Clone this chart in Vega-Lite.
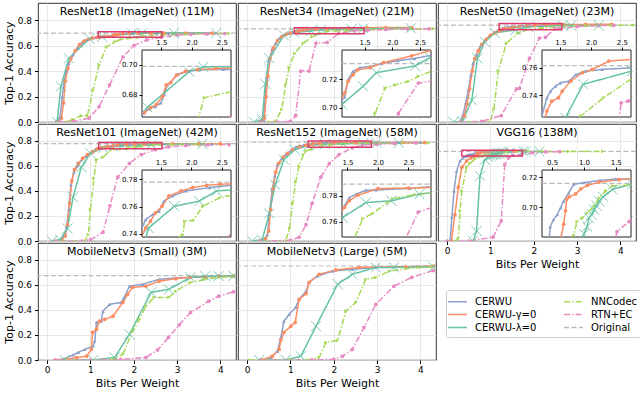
{
"$schema":"https://vega.github.io/schema/vega-lite/v6.json",
"background":"white",
"padding":{"left":2,"top":2,"right":2,"bottom":2},
"bounds":"flush",
"spacing":2,
"columns":3,
"config":{
 "font":"DejaVu Sans",
 "view":{"stroke":"#000000","strokeWidth":0.8},
 "axis":{"labelFontSize":9,"labelColor":"#000","titleFontSize":11,"titleFontWeight":"normal","titleColor":"#000","gridColor":"#e2e2e2","gridWidth":0.8,"tickColor":"#000","labelFlush":false,"labelOverlap":false},
 "title":{"fontSize":11,"fontWeight":"normal","offset":-14,"frame":"group","color":"#000"}
},
"datasets":{
 "orig":[{"model":"R18","method":"Original","acc":0.699},{"model":"R34","method":"Original","acc":0.731},{"model":"R50","method":"Original","acc":0.7615},{"model":"R101","method":"Original","acc":0.778},{"model":"R152","method":"Original","acc":0.789},{"model":"VGG16","method":"Original","acc":0.716},{"model":"MNS","method":"Original","acc":0.674},{"model":"MNL","method":"Original","acc":0.751}],
 "boxes":[{"model":"R18","x0":1.18,"x1":2.65,"y0":0.665,"y1":0.71},{"model":"R34","x0":1.09,"x1":2.7,"y0":0.6935,"y1":0.7405},{"model":"R50","x0":1.2,"x1":2.65,"y0":0.724,"y1":0.773},{"model":"R101","x0":1.19,"x1":2.65,"y0":0.7375,"y1":0.787},{"model":"R152","x0":1.41,"x1":2.87,"y0":0.7485,"y1":0.7998},{"model":"VGG16","x0":0.34,"x1":1.74,"y0":0.68,"y1":0.725}],
 "curves":[
{"model":"R18","method":"CERWU","bpw":0.2,"acc":0},{"model":"R18","method":"CERWU","bpw":0.3,"acc":0.04},{"model":"R18","method":"CERWU","bpw":0.35,"acc":0.2},{"model":"R18","method":"CERWU","bpw":0.4,"acc":0.33},{"model":"R18","method":"CERWU","bpw":0.45,"acc":0.4},{"model":"R18","method":"CERWU","bpw":0.5,"acc":0.46},{"model":"R18","method":"CERWU","bpw":0.6,"acc":0.53},{"model":"R18","method":"CERWU","bpw":0.7,"acc":0.58},{"model":"R18","method":"CERWU","bpw":0.8,"acc":0.62},{"model":"R18","method":"CERWU","bpw":0.9,"acc":0.645},{"model":"R18","method":"CERWU","bpw":1.0,"acc":0.655},{"model":"R18","method":"CERWU","bpw":1.1,"acc":0.662},{"model":"R18","method":"CERWU","bpw":1.2,"acc":0.6675},{"model":"R18","method":"CERWU","bpw":1.3,"acc":0.6706},{"model":"R18","method":"CERWU","bpw":1.4,"acc":0.672},{"model":"R18","method":"CERWU","bpw":1.49,"acc":0.6744},{"model":"R18","method":"CERWU","bpw":1.55,"acc":0.68},{"model":"R18","method":"CERWU","bpw":1.6,"acc":0.6868},{"model":"R18","method":"CERWU","bpw":1.66,"acc":0.6888},{"model":"R18","method":"CERWU","bpw":1.77,"acc":0.6936},{"model":"R18","method":"CERWU","bpw":1.96,"acc":0.6958},{"model":"R18","method":"CERWU","bpw":2.13,"acc":0.6966},{"model":"R18","method":"CERWU","bpw":2.52,"acc":0.697},{"model":"R18","method":"CERWU","bpw":2.8,"acc":0.6968},{"model":"R18","method":"CERWU","bpw":3.2,"acc":0.697},{"model":"R18","method":"CERWU","bpw":3.7,"acc":0.6972},
{"model":"R18","method":"CERWU-γ=0","bpw":0.25,"acc":0},{"model":"R18","method":"CERWU-γ=0","bpw":0.33,"acc":0.03},{"model":"R18","method":"CERWU-γ=0","bpw":0.38,"acc":0.15},{"model":"R18","method":"CERWU-γ=0","bpw":0.42,"acc":0.32},{"model":"R18","method":"CERWU-γ=0","bpw":0.48,"acc":0.42},{"model":"R18","method":"CERWU-γ=0","bpw":0.55,"acc":0.5},{"model":"R18","method":"CERWU-γ=0","bpw":0.65,"acc":0.56},{"model":"R18","method":"CERWU-γ=0","bpw":0.75,"acc":0.61},{"model":"R18","method":"CERWU-γ=0","bpw":0.85,"acc":0.635},{"model":"R18","method":"CERWU-γ=0","bpw":0.95,"acc":0.65},{"model":"R18","method":"CERWU-γ=0","bpw":1.05,"acc":0.66},{"model":"R18","method":"CERWU-γ=0","bpw":1.15,"acc":0.665},{"model":"R18","method":"CERWU-γ=0","bpw":1.22,"acc":0.668},{"model":"R18","method":"CERWU-γ=0","bpw":1.32,"acc":0.6712},{"model":"R18","method":"CERWU-γ=0","bpw":1.42,"acc":0.6735},{"model":"R18","method":"CERWU-γ=0","bpw":1.52,"acc":0.679},{"model":"R18","method":"CERWU-γ=0","bpw":1.58,"acc":0.6865},{"model":"R18","method":"CERWU-γ=0","bpw":1.65,"acc":0.688},{"model":"R18","method":"CERWU-γ=0","bpw":1.75,"acc":0.6932},{"model":"R18","method":"CERWU-γ=0","bpw":1.9,"acc":0.6958},{"model":"R18","method":"CERWU-γ=0","bpw":2.1,"acc":0.6968},{"model":"R18","method":"CERWU-γ=0","bpw":2.4,"acc":0.6975},{"model":"R18","method":"CERWU-γ=0","bpw":2.7,"acc":0.698},{"model":"R18","method":"CERWU-γ=0","bpw":3.2,"acc":0.698},{"model":"R18","method":"CERWU-γ=0","bpw":3.8,"acc":0.6985},
{"model":"R18","method":"CERWU-λ=0","bpw":0.23,"acc":0},{"model":"R18","method":"CERWU-λ=0","bpw":0.32,"acc":0.28},{"model":"R18","method":"CERWU-λ=0","bpw":0.5,"acc":0.5},{"model":"R18","method":"CERWU-λ=0","bpw":0.98,"acc":0.655},{"model":"R18","method":"CERWU-λ=0","bpw":1.27,"acc":0.6715},{"model":"R18","method":"CERWU-λ=0","bpw":1.96,"acc":0.6955},{"model":"R18","method":"CERWU-λ=0","bpw":2.19,"acc":0.6986},{"model":"R18","method":"CERWU-λ=0","bpw":2.93,"acc":0.699},{"model":"R18","method":"CERWU-λ=0","bpw":3.9,"acc":0.699},
{"model":"R18","method":"NNCodec","bpw":0.45,"acc":0},{"model":"R18","method":"NNCodec","bpw":0.6,"acc":0.02},{"model":"R18","method":"NNCodec","bpw":0.79,"acc":0.05},{"model":"R18","method":"NNCodec","bpw":0.93,"acc":0.05},{"model":"R18","method":"NNCodec","bpw":1.06,"acc":0.25},{"model":"R18","method":"NNCodec","bpw":1.2,"acc":0.45},{"model":"R18","method":"NNCodec","bpw":1.37,"acc":0.59},{"model":"R18","method":"NNCodec","bpw":1.56,"acc":0.63},{"model":"R18","method":"NNCodec","bpw":1.71,"acc":0.65},{"model":"R18","method":"NNCodec","bpw":1.94,"acc":0.66},{"model":"R18","method":"NNCodec","bpw":2.1,"acc":0.663},{"model":"R18","method":"NNCodec","bpw":2.21,"acc":0.678},{"model":"R18","method":"NNCodec","bpw":2.68,"acc":0.6823},{"model":"R18","method":"NNCodec","bpw":3.2,"acc":0.69},{"model":"R18","method":"NNCodec","bpw":3.7,"acc":0.694},{"model":"R18","method":"NNCodec","bpw":4.2,"acc":0.696},
{"model":"R18","method":"RTN+EC","bpw":0.3,"acc":0},{"model":"R18","method":"RTN+EC","bpw":0.6,"acc":0.005},{"model":"R18","method":"RTN+EC","bpw":0.97,"acc":0.03},{"model":"R18","method":"RTN+EC","bpw":1.2,"acc":0.12},{"model":"R18","method":"RTN+EC","bpw":1.44,"acc":0.29},{"model":"R18","method":"RTN+EC","bpw":1.75,"acc":0.51},{"model":"R18","method":"RTN+EC","bpw":2.0,"acc":0.6},{"model":"R18","method":"RTN+EC","bpw":2.3,"acc":0.645},{"model":"R18","method":"RTN+EC","bpw":2.63,"acc":0.665},{"model":"R18","method":"RTN+EC","bpw":3.0,"acc":0.683},{"model":"R18","method":"RTN+EC","bpw":3.31,"acc":0.689},{"model":"R18","method":"RTN+EC","bpw":3.69,"acc":0.692},{"model":"R18","method":"RTN+EC","bpw":4.1,"acc":0.695},
{"model":"R34","method":"CERWU","bpw":0.3,"acc":0},{"model":"R34","method":"CERWU","bpw":0.38,"acc":0.02},{"model":"R34","method":"CERWU","bpw":0.42,"acc":0.2},{"model":"R34","method":"CERWU","bpw":0.45,"acc":0.35},{"model":"R34","method":"CERWU","bpw":0.5,"acc":0.48},{"model":"R34","method":"CERWU","bpw":0.58,"acc":0.57},{"model":"R34","method":"CERWU","bpw":0.66,"acc":0.62},{"model":"R34","method":"CERWU","bpw":0.75,"acc":0.66},{"model":"R34","method":"CERWU","bpw":0.85,"acc":0.685},{"model":"R34","method":"CERWU","bpw":0.95,"acc":0.698},{"model":"R34","method":"CERWU","bpw":1.05,"acc":0.704},{"model":"R34","method":"CERWU","bpw":1.14,"acc":0.7074},{"model":"R34","method":"CERWU","bpw":1.2,"acc":0.7197},{"model":"R34","method":"CERWU","bpw":1.29,"acc":0.7255},{"model":"R34","method":"CERWU","bpw":1.41,"acc":0.7281},{"model":"R34","method":"CERWU","bpw":1.6,"acc":0.729},{"model":"R34","method":"CERWU","bpw":1.8,"acc":0.731},{"model":"R34","method":"CERWU","bpw":2.1,"acc":0.733},{"model":"R34","method":"CERWU","bpw":2.4,"acc":0.7345},{"model":"R34","method":"CERWU","bpw":2.77,"acc":0.7373},{"model":"R34","method":"CERWU","bpw":3.2,"acc":0.738},{"model":"R34","method":"CERWU","bpw":3.8,"acc":0.7385},
{"model":"R34","method":"CERWU-γ=0","bpw":0.33,"acc":0},{"model":"R34","method":"CERWU-γ=0","bpw":0.4,"acc":0.03},{"model":"R34","method":"CERWU-γ=0","bpw":0.44,"acc":0.2},{"model":"R34","method":"CERWU-γ=0","bpw":0.48,"acc":0.36},{"model":"R34","method":"CERWU-γ=0","bpw":0.53,"acc":0.5},{"model":"R34","method":"CERWU-γ=0","bpw":0.6,"acc":0.58},{"model":"R34","method":"CERWU-γ=0","bpw":0.7,"acc":0.64},{"model":"R34","method":"CERWU-γ=0","bpw":0.8,"acc":0.67},{"model":"R34","method":"CERWU-γ=0","bpw":0.9,"acc":0.69},{"model":"R34","method":"CERWU-γ=0","bpw":1.0,"acc":0.7},{"model":"R34","method":"CERWU-γ=0","bpw":1.14,"acc":0.7105},{"model":"R34","method":"CERWU-γ=0","bpw":1.2,"acc":0.7185},{"model":"R34","method":"CERWU-γ=0","bpw":1.29,"acc":0.7232},{"model":"R34","method":"CERWU-γ=0","bpw":1.38,"acc":0.7267},{"model":"R34","method":"CERWU-γ=0","bpw":1.6,"acc":0.7281},{"model":"R34","method":"CERWU-γ=0","bpw":1.84,"acc":0.7316},{"model":"R34","method":"CERWU-γ=0","bpw":2.35,"acc":0.7364},{"model":"R34","method":"CERWU-γ=0","bpw":2.77,"acc":0.741},{"model":"R34","method":"CERWU-γ=0","bpw":3.2,"acc":0.742},{"model":"R34","method":"CERWU-γ=0","bpw":3.8,"acc":0.7425},
{"model":"R34","method":"CERWU-λ=0","bpw":0.16,"acc":0},{"model":"R34","method":"CERWU-λ=0","bpw":0.35,"acc":0.02},{"model":"R34","method":"CERWU-λ=0","bpw":0.42,"acc":0.3},{"model":"R34","method":"CERWU-λ=0","bpw":0.51,"acc":0.5},{"model":"R34","method":"CERWU-λ=0","bpw":0.85,"acc":0.68},{"model":"R34","method":"CERWU-λ=0","bpw":1.09,"acc":0.7024},{"model":"R34","method":"CERWU-λ=0","bpw":1.47,"acc":0.715},{"model":"R34","method":"CERWU-λ=0","bpw":1.71,"acc":0.7246},{"model":"R34","method":"CERWU-λ=0","bpw":2.41,"acc":0.7293},{"model":"R34","method":"CERWU-λ=0","bpw":2.68,"acc":0.7352},{"model":"R34","method":"CERWU-λ=0","bpw":3.78,"acc":0.736},
{"model":"R34","method":"NNCodec","bpw":0.5,"acc":0},{"model":"R34","method":"NNCodec","bpw":0.66,"acc":0.005},{"model":"R34","method":"NNCodec","bpw":0.8,"acc":0.1},{"model":"R34","method":"NNCodec","bpw":0.89,"acc":0.29},{"model":"R34","method":"NNCodec","bpw":0.97,"acc":0.43},{"model":"R34","method":"NNCodec","bpw":1.1,"acc":0.54},{"model":"R34","method":"NNCodec","bpw":1.3,"acc":0.62},{"model":"R34","method":"NNCodec","bpw":1.5,"acc":0.67},{"model":"R34","method":"NNCodec","bpw":1.69,"acc":0.696},{"model":"R34","method":"NNCodec","bpw":1.87,"acc":0.7139},{"model":"R34","method":"NNCodec","bpw":2.05,"acc":0.716},{"model":"R34","method":"NNCodec","bpw":2.29,"acc":0.7185},{"model":"R34","method":"NNCodec","bpw":2.47,"acc":0.722},{"model":"R34","method":"NNCodec","bpw":2.77,"acc":0.7267},{"model":"R34","method":"NNCodec","bpw":3.2,"acc":0.73},{"model":"R34","method":"NNCodec","bpw":3.8,"acc":0.732},{"model":"R34","method":"NNCodec","bpw":4.3,"acc":0.733},
{"model":"R34","method":"RTN+EC","bpw":0.3,"acc":0},{"model":"R34","method":"RTN+EC","bpw":0.7,"acc":0},{"model":"R34","method":"RTN+EC","bpw":1.0,"acc":0.005},{"model":"R34","method":"RTN+EC","bpw":1.12,"acc":0.05},{"model":"R34","method":"RTN+EC","bpw":1.24,"acc":0.4},{"model":"R34","method":"RTN+EC","bpw":1.43,"acc":0.4},{"model":"R34","method":"RTN+EC","bpw":1.59,"acc":0.62},{"model":"R34","method":"RTN+EC","bpw":1.85,"acc":0.625},{"model":"R34","method":"RTN+EC","bpw":2.11,"acc":0.696},{"model":"R34","method":"RTN+EC","bpw":2.47,"acc":0.7173},{"model":"R34","method":"RTN+EC","bpw":2.77,"acc":0.719},{"model":"R34","method":"RTN+EC","bpw":3.2,"acc":0.727},{"model":"R34","method":"RTN+EC","bpw":3.7,"acc":0.73},{"model":"R34","method":"RTN+EC","bpw":4.2,"acc":0.732},
{"model":"R50","method":"CERWU","bpw":0.3,"acc":0},{"model":"R50","method":"CERWU","bpw":0.37,"acc":0.06},{"model":"R50","method":"CERWU","bpw":0.43,"acc":0.15},{"model":"R50","method":"CERWU","bpw":0.49,"acc":0.25},{"model":"R50","method":"CERWU","bpw":0.55,"acc":0.37},{"model":"R50","method":"CERWU","bpw":0.6,"acc":0.46},{"model":"R50","method":"CERWU","bpw":0.68,"acc":0.53},{"model":"R50","method":"CERWU","bpw":0.76,"acc":0.59},{"model":"R50","method":"CERWU","bpw":0.88,"acc":0.645},{"model":"R50","method":"CERWU","bpw":0.99,"acc":0.68},{"model":"R50","method":"CERWU","bpw":1.1,"acc":0.705},{"model":"R50","method":"CERWU","bpw":1.2,"acc":0.725},{"model":"R50","method":"CERWU","bpw":1.28,"acc":0.738},{"model":"R50","method":"CERWU","bpw":1.34,"acc":0.743},{"model":"R50","method":"CERWU","bpw":1.42,"acc":0.7466},{"model":"R50","method":"CERWU","bpw":1.5,"acc":0.749},{"model":"R50","method":"CERWU","bpw":1.64,"acc":0.7502},{"model":"R50","method":"CERWU","bpw":1.75,"acc":0.755},{"model":"R50","method":"CERWU","bpw":1.91,"acc":0.7575},{"model":"R50","method":"CERWU","bpw":2.18,"acc":0.7588},{"model":"R50","method":"CERWU","bpw":2.68,"acc":0.76},{"model":"R50","method":"CERWU","bpw":3.2,"acc":0.7605},{"model":"R50","method":"CERWU","bpw":3.8,"acc":0.761},
{"model":"R50","method":"CERWU-γ=0","bpw":0.32,"acc":0},{"model":"R50","method":"CERWU-γ=0","bpw":0.4,"acc":0.05},{"model":"R50","method":"CERWU-γ=0","bpw":0.46,"acc":0.14},{"model":"R50","method":"CERWU-γ=0","bpw":0.52,"acc":0.26},{"model":"R50","method":"CERWU-γ=0","bpw":0.58,"acc":0.4},{"model":"R50","method":"CERWU-γ=0","bpw":0.64,"acc":0.5},{"model":"R50","method":"CERWU-γ=0","bpw":0.72,"acc":0.56},{"model":"R50","method":"CERWU-γ=0","bpw":0.8,"acc":0.61},{"model":"R50","method":"CERWU-γ=0","bpw":0.9,"acc":0.65},{"model":"R50","method":"CERWU-γ=0","bpw":1.0,"acc":0.68},{"model":"R50","method":"CERWU-γ=0","bpw":1.1,"acc":0.7},{"model":"R50","method":"CERWU-γ=0","bpw":1.2,"acc":0.715},{"model":"R50","method":"CERWU-γ=0","bpw":1.28,"acc":0.7283},{"model":"R50","method":"CERWU-γ=0","bpw":1.36,"acc":0.7356},{"model":"R50","method":"CERWU-γ=0","bpw":1.47,"acc":0.7381},{"model":"R50","method":"CERWU-γ=0","bpw":1.53,"acc":0.743},{"model":"R50","method":"CERWU-γ=0","bpw":1.67,"acc":0.7503},{"model":"R50","method":"CERWU-γ=0","bpw":1.86,"acc":0.7564},{"model":"R50","method":"CERWU-γ=0","bpw":2.02,"acc":0.7588},{"model":"R50","method":"CERWU-γ=0","bpw":2.29,"acc":0.7649},{"model":"R50","method":"CERWU-γ=0","bpw":2.68,"acc":0.7662},{"model":"R50","method":"CERWU-γ=0","bpw":3.2,"acc":0.767},{"model":"R50","method":"CERWU-γ=0","bpw":3.8,"acc":0.7675},
{"model":"R50","method":"CERWU-λ=0","bpw":0.15,"acc":0},{"model":"R50","method":"CERWU-λ=0","bpw":0.35,"acc":0.005},{"model":"R50","method":"CERWU-λ=0","bpw":0.57,"acc":0.17},{"model":"R50","method":"CERWU-λ=0","bpw":0.7,"acc":0.5},{"model":"R50","method":"CERWU-λ=0","bpw":0.87,"acc":0.63},{"model":"R50","method":"CERWU-λ=0","bpw":1.1,"acc":0.7},{"model":"R50","method":"CERWU-λ=0","bpw":1.58,"acc":0.7234},{"model":"R50","method":"CERWU-λ=0","bpw":1.87,"acc":0.7479},{"model":"R50","method":"CERWU-λ=0","bpw":2.67,"acc":0.7577},{"model":"R50","method":"CERWU-λ=0","bpw":2.86,"acc":0.758},{"model":"R50","method":"CERWU-λ=0","bpw":3.5,"acc":0.759},
{"model":"R50","method":"NNCodec","bpw":0.5,"acc":0},{"model":"R50","method":"NNCodec","bpw":0.99,"acc":0},{"model":"R50","method":"NNCodec","bpw":1.08,"acc":0.1},{"model":"R50","method":"NNCodec","bpw":1.18,"acc":0.4},{"model":"R50","method":"NNCodec","bpw":1.37,"acc":0.62},{"model":"R50","method":"NNCodec","bpw":1.64,"acc":0.7},{"model":"R50","method":"NNCodec","bpw":1.83,"acc":0.7246},{"model":"R50","method":"NNCodec","bpw":2.2,"acc":0.738},{"model":"R50","method":"NNCodec","bpw":2.68,"acc":0.7527},{"model":"R50","method":"NNCodec","bpw":3.2,"acc":0.758},{"model":"R50","method":"NNCodec","bpw":3.8,"acc":0.76},{"model":"R50","method":"NNCodec","bpw":4.3,"acc":0.761},
{"model":"R50","method":"RTN+EC","bpw":0.3,"acc":0},{"model":"R50","method":"RTN+EC","bpw":0.8,"acc":0.005},{"model":"R50","method":"RTN+EC","bpw":1.25,"acc":0.05},{"model":"R50","method":"RTN+EC","bpw":1.6,"acc":0.26},{"model":"R50","method":"RTN+EC","bpw":1.67,"acc":0.265},{"model":"R50","method":"RTN+EC","bpw":1.9,"acc":0.5},{"model":"R50","method":"RTN+EC","bpw":2.13,"acc":0.66},{"model":"R50","method":"RTN+EC","bpw":2.27,"acc":0.665},{"model":"R50","method":"RTN+EC","bpw":2.49,"acc":0.7344},{"model":"R50","method":"RTN+EC","bpw":2.6,"acc":0.7356},{"model":"R50","method":"RTN+EC","bpw":3.0,"acc":0.75},{"model":"R50","method":"RTN+EC","bpw":3.5,"acc":0.757},{"model":"R50","method":"RTN+EC","bpw":3.85,"acc":0.76},
{"model":"R101","method":"CERWU","bpw":0.3,"acc":0},{"model":"R101","method":"CERWU","bpw":0.4,"acc":0.05},{"model":"R101","method":"CERWU","bpw":0.45,"acc":0.11},{"model":"R101","method":"CERWU","bpw":0.5,"acc":0.25},{"model":"R101","method":"CERWU","bpw":0.55,"acc":0.45},{"model":"R101","method":"CERWU","bpw":0.62,"acc":0.55},{"model":"R101","method":"CERWU","bpw":0.7,"acc":0.6},{"model":"R101","method":"CERWU","bpw":0.8,"acc":0.65},{"model":"R101","method":"CERWU","bpw":0.91,"acc":0.68},{"model":"R101","method":"CERWU","bpw":1.05,"acc":0.71},{"model":"R101","method":"CERWU","bpw":1.15,"acc":0.74},{"model":"R101","method":"CERWU","bpw":1.25,"acc":0.7504},{"model":"R101","method":"CERWU","bpw":1.36,"acc":0.754},{"model":"R101","method":"CERWU","bpw":1.47,"acc":0.7565},{"model":"R101","method":"CERWU","bpw":1.55,"acc":0.764},{"model":"R101","method":"CERWU","bpw":1.69,"acc":0.7678},{"model":"R101","method":"CERWU","bpw":1.91,"acc":0.7715},{"model":"R101","method":"CERWU","bpw":2.3,"acc":0.774},{"model":"R101","method":"CERWU","bpw":2.7,"acc":0.776},{"model":"R101","method":"CERWU","bpw":3.2,"acc":0.777},{"model":"R101","method":"CERWU","bpw":3.8,"acc":0.7775},
{"model":"R101","method":"CERWU-γ=0","bpw":0.33,"acc":0},{"model":"R101","method":"CERWU-γ=0","bpw":0.42,"acc":0.04},{"model":"R101","method":"CERWU-γ=0","bpw":0.47,"acc":0.13},{"model":"R101","method":"CERWU-γ=0","bpw":0.52,"acc":0.3},{"model":"R101","method":"CERWU-γ=0","bpw":0.57,"acc":0.48},{"model":"R101","method":"CERWU-γ=0","bpw":0.63,"acc":0.57},{"model":"R101","method":"CERWU-γ=0","bpw":0.72,"acc":0.62},{"model":"R101","method":"CERWU-γ=0","bpw":0.82,"acc":0.66},{"model":"R101","method":"CERWU-γ=0","bpw":0.93,"acc":0.69},{"model":"R101","method":"CERWU-γ=0","bpw":1.05,"acc":0.715},{"model":"R101","method":"CERWU-γ=0","bpw":1.15,"acc":0.735},{"model":"R101","method":"CERWU-γ=0","bpw":1.25,"acc":0.7442},{"model":"R101","method":"CERWU-γ=0","bpw":1.33,"acc":0.7492},{"model":"R101","method":"CERWU-γ=0","bpw":1.41,"acc":0.7553},{"model":"R101","method":"CERWU-γ=0","bpw":1.52,"acc":0.7603},{"model":"R101","method":"CERWU-γ=0","bpw":1.63,"acc":0.7678},{"model":"R101","method":"CERWU-γ=0","bpw":1.83,"acc":0.7715},{"model":"R101","method":"CERWU-γ=0","bpw":2.02,"acc":0.774},{"model":"R101","method":"CERWU-γ=0","bpw":2.25,"acc":0.7757},{"model":"R101","method":"CERWU-γ=0","bpw":2.47,"acc":0.7765},{"model":"R101","method":"CERWU-γ=0","bpw":2.9,"acc":0.777},{"model":"R101","method":"CERWU-γ=0","bpw":3.5,"acc":0.7775},{"model":"R101","method":"CERWU-γ=0","bpw":4.0,"acc":0.778},
{"model":"R101","method":"CERWU-λ=0","bpw":0.11,"acc":0},{"model":"R101","method":"CERWU-λ=0","bpw":0.3,"acc":0.01},{"model":"R101","method":"CERWU-λ=0","bpw":0.47,"acc":0.1},{"model":"R101","method":"CERWU-λ=0","bpw":0.6,"acc":0.35},{"model":"R101","method":"CERWU-λ=0","bpw":0.79,"acc":0.59},{"model":"R101","method":"CERWU-λ=0","bpw":1.0,"acc":0.7},{"model":"R101","method":"CERWU-λ=0","bpw":1.3,"acc":0.7442},{"model":"R101","method":"CERWU-λ=0","bpw":1.72,"acc":0.7602},{"model":"R101","method":"CERWU-λ=0","bpw":2.13,"acc":0.764},{"model":"R101","method":"CERWU-λ=0","bpw":2.41,"acc":0.7715},{"model":"R101","method":"CERWU-λ=0","bpw":3.58,"acc":0.775},
{"model":"R101","method":"NNCodec","bpw":0.3,"acc":0},{"model":"R101","method":"NNCodec","bpw":0.87,"acc":0},{"model":"R101","method":"NNCodec","bpw":0.95,"acc":0.05},{"model":"R101","method":"NNCodec","bpw":1.0,"acc":0.25},{"model":"R101","method":"NNCodec","bpw":1.08,"acc":0.5},{"model":"R101","method":"NNCodec","bpw":1.14,"acc":0.65},{"model":"R101","method":"NNCodec","bpw":1.29,"acc":0.67},{"model":"R101","method":"NNCodec","bpw":1.48,"acc":0.73},{"model":"R101","method":"NNCodec","bpw":1.7,"acc":0.735},{"model":"R101","method":"NNCodec","bpw":1.86,"acc":0.7393},{"model":"R101","method":"NNCodec","bpw":1.89,"acc":0.7492},{"model":"R101","method":"NNCodec","bpw":2.03,"acc":0.7497},{"model":"R101","method":"NNCodec","bpw":2.19,"acc":0.7603},{"model":"R101","method":"NNCodec","bpw":2.47,"acc":0.7665},{"model":"R101","method":"NNCodec","bpw":2.9,"acc":0.771},{"model":"R101","method":"NNCodec","bpw":3.5,"acc":0.773},{"model":"R101","method":"NNCodec","bpw":4.2,"acc":0.774},
{"model":"R101","method":"RTN+EC","bpw":0.2,"acc":0},{"model":"R101","method":"RTN+EC","bpw":0.8,"acc":0},{"model":"R101","method":"RTN+EC","bpw":1.0,"acc":0.01},{"model":"R101","method":"RTN+EC","bpw":1.29,"acc":0.07},{"model":"R101","method":"RTN+EC","bpw":1.45,"acc":0.28},{"model":"R101","method":"RTN+EC","bpw":1.63,"acc":0.51},{"model":"R101","method":"RTN+EC","bpw":1.9,"acc":0.62},{"model":"R101","method":"RTN+EC","bpw":2.17,"acc":0.69},{"model":"R101","method":"RTN+EC","bpw":2.5,"acc":0.73},{"model":"R101","method":"RTN+EC","bpw":2.8,"acc":0.752},{"model":"R101","method":"RTN+EC","bpw":3.2,"acc":0.763},{"model":"R101","method":"RTN+EC","bpw":3.7,"acc":0.768},{"model":"R101","method":"RTN+EC","bpw":4.2,"acc":0.771},
{"model":"R152","method":"CERWU","bpw":0.25,"acc":0},{"model":"R152","method":"CERWU","bpw":0.4,"acc":0.01},{"model":"R152","method":"CERWU","bpw":0.47,"acc":0.05},{"model":"R152","method":"CERWU","bpw":0.51,"acc":0.21},{"model":"R152","method":"CERWU","bpw":0.58,"acc":0.41},{"model":"R152","method":"CERWU","bpw":0.64,"acc":0.52},{"model":"R152","method":"CERWU","bpw":0.7,"acc":0.61},{"model":"R152","method":"CERWU","bpw":0.8,"acc":0.66},{"model":"R152","method":"CERWU","bpw":0.89,"acc":0.69},{"model":"R152","method":"CERWU","bpw":1.0,"acc":0.72},{"model":"R152","method":"CERWU","bpw":1.12,"acc":0.75},{"model":"R152","method":"CERWU","bpw":1.3,"acc":0.765},{"model":"R152","method":"CERWU","bpw":1.45,"acc":0.7723},{"model":"R152","method":"CERWU","bpw":1.53,"acc":0.7787},{"model":"R152","method":"CERWU","bpw":1.64,"acc":0.7813},{"model":"R152","method":"CERWU","bpw":1.8,"acc":0.7843},{"model":"R152","method":"CERWU","bpw":1.97,"acc":0.7845},{"model":"R152","method":"CERWU","bpw":2.52,"acc":0.7857},{"model":"R152","method":"CERWU","bpw":2.99,"acc":0.7875},{"model":"R152","method":"CERWU","bpw":3.5,"acc":0.788},{"model":"R152","method":"CERWU","bpw":4.0,"acc":0.788},
{"model":"R152","method":"CERWU-γ=0","bpw":0.3,"acc":0},{"model":"R152","method":"CERWU-γ=0","bpw":0.43,"acc":0.02},{"model":"R152","method":"CERWU-γ=0","bpw":0.5,"acc":0.08},{"model":"R152","method":"CERWU-γ=0","bpw":0.54,"acc":0.25},{"model":"R152","method":"CERWU-γ=0","bpw":0.6,"acc":0.42},{"model":"R152","method":"CERWU-γ=0","bpw":0.66,"acc":0.55},{"model":"R152","method":"CERWU-γ=0","bpw":0.73,"acc":0.62},{"model":"R152","method":"CERWU-γ=0","bpw":0.83,"acc":0.67},{"model":"R152","method":"CERWU-γ=0","bpw":0.93,"acc":0.7},{"model":"R152","method":"CERWU-γ=0","bpw":1.05,"acc":0.73},{"model":"R152","method":"CERWU-γ=0","bpw":1.2,"acc":0.755},{"model":"R152","method":"CERWU-γ=0","bpw":1.35,"acc":0.765},{"model":"R152","method":"CERWU-γ=0","bpw":1.45,"acc":0.7711},{"model":"R152","method":"CERWU-γ=0","bpw":1.53,"acc":0.7762},{"model":"R152","method":"CERWU-γ=0","bpw":1.67,"acc":0.7805},{"model":"R152","method":"CERWU-γ=0","bpw":2.0,"acc":0.7855},{"model":"R152","method":"CERWU-γ=0","bpw":2.5,"acc":0.786},{"model":"R152","method":"CERWU-γ=0","bpw":2.99,"acc":0.7865},{"model":"R152","method":"CERWU-γ=0","bpw":3.6,"acc":0.787},{"model":"R152","method":"CERWU-γ=0","bpw":4.1,"acc":0.787},
{"model":"R152","method":"CERWU-λ=0","bpw":0.12,"acc":0},{"model":"R152","method":"CERWU-λ=0","bpw":0.35,"acc":0.01},{"model":"R152","method":"CERWU-λ=0","bpw":0.51,"acc":0.22},{"model":"R152","method":"CERWU-λ=0","bpw":0.65,"acc":0.45},{"model":"R152","method":"CERWU-λ=0","bpw":0.85,"acc":0.65},{"model":"R152","method":"CERWU-λ=0","bpw":1.1,"acc":0.73},{"model":"R152","method":"CERWU-λ=0","bpw":1.42,"acc":0.7633},{"model":"R152","method":"CERWU-λ=0","bpw":1.8,"acc":0.7749},{"model":"R152","method":"CERWU-λ=0","bpw":2.22,"acc":0.7762},{"model":"R152","method":"CERWU-λ=0","bpw":2.68,"acc":0.7813},{"model":"R152","method":"CERWU-λ=0","bpw":2.99,"acc":0.783},{"model":"R152","method":"CERWU-λ=0","bpw":3.5,"acc":0.784},
{"model":"R152","method":"NNCodec","bpw":0.4,"acc":0},{"model":"R152","method":"NNCodec","bpw":0.89,"acc":0},{"model":"R152","method":"NNCodec","bpw":0.98,"acc":0.1},{"model":"R152","method":"NNCodec","bpw":1.05,"acc":0.3},{"model":"R152","method":"NNCodec","bpw":1.12,"acc":0.47},{"model":"R152","method":"NNCodec","bpw":1.2,"acc":0.6},{"model":"R152","method":"NNCodec","bpw":1.3,"acc":0.69},{"model":"R152","method":"NNCodec","bpw":1.36,"acc":0.72},{"model":"R152","method":"NNCodec","bpw":1.5,"acc":0.735},{"model":"R152","method":"NNCodec","bpw":1.75,"acc":0.7625},{"model":"R152","method":"NNCodec","bpw":1.91,"acc":0.7664},{"model":"R152","method":"NNCodec","bpw":2.24,"acc":0.7779},{"model":"R152","method":"NNCodec","bpw":2.6,"acc":0.781},{"model":"R152","method":"NNCodec","bpw":3.0,"acc":0.783},{"model":"R152","method":"NNCodec","bpw":3.6,"acc":0.7835},{"model":"R152","method":"NNCodec","bpw":4.2,"acc":0.784},
{"model":"R152","method":"RTN+EC","bpw":0.3,"acc":0},{"model":"R152","method":"RTN+EC","bpw":1.0,"acc":0.005},{"model":"R152","method":"RTN+EC","bpw":1.2,"acc":0.03},{"model":"R152","method":"RTN+EC","bpw":1.36,"acc":0.13},{"model":"R152","method":"RTN+EC","bpw":1.5,"acc":0.3},{"model":"R152","method":"RTN+EC","bpw":1.7,"acc":0.51},{"model":"R152","method":"RTN+EC","bpw":1.9,"acc":0.62},{"model":"R152","method":"RTN+EC","bpw":2.12,"acc":0.69},{"model":"R152","method":"RTN+EC","bpw":2.43,"acc":0.745},{"model":"R152","method":"RTN+EC","bpw":2.66,"acc":0.7676},{"model":"R152","method":"RTN+EC","bpw":2.99,"acc":0.7728},{"model":"R152","method":"RTN+EC","bpw":3.4,"acc":0.78},{"model":"R152","method":"RTN+EC","bpw":3.9,"acc":0.783},
{"model":"VGG16","method":"CERWU","bpw":0.07,"acc":0},{"model":"VGG16","method":"CERWU","bpw":0.11,"acc":0.19},{"model":"VGG16","method":"CERWU","bpw":0.16,"acc":0.4},{"model":"VGG16","method":"CERWU","bpw":0.22,"acc":0.56},{"model":"VGG16","method":"CERWU","bpw":0.3,"acc":0.64},{"model":"VGG16","method":"CERWU","bpw":0.37,"acc":0.665},{"model":"VGG16","method":"CERWU","bpw":0.45,"acc":0.678},{"model":"VGG16","method":"CERWU","bpw":0.47,"acc":0.687},{"model":"VGG16","method":"CERWU","bpw":0.52,"acc":0.6916},{"model":"VGG16","method":"CERWU","bpw":0.58,"acc":0.695},{"model":"VGG16","method":"CERWU","bpw":0.63,"acc":0.6995},{"model":"VGG16","method":"CERWU","bpw":0.68,"acc":0.704},{"model":"VGG16","method":"CERWU","bpw":0.76,"acc":0.7097},{"model":"VGG16","method":"CERWU","bpw":0.84,"acc":0.7154},{"model":"VGG16","method":"CERWU","bpw":1.0,"acc":0.7165},{"model":"VGG16","method":"CERWU","bpw":1.25,"acc":0.718},{"model":"VGG16","method":"CERWU","bpw":1.5,"acc":0.7189},{"model":"VGG16","method":"CERWU","bpw":1.76,"acc":0.719},
{"model":"VGG16","method":"CERWU-γ=0","bpw":0.1,"acc":0},{"model":"VGG16","method":"CERWU-γ=0","bpw":0.18,"acc":0.21},{"model":"VGG16","method":"CERWU-γ=0","bpw":0.26,"acc":0.43},{"model":"VGG16","method":"CERWU-γ=0","bpw":0.34,"acc":0.59},{"model":"VGG16","method":"CERWU-γ=0","bpw":0.45,"acc":0.64},{"model":"VGG16","method":"CERWU-γ=0","bpw":0.55,"acc":0.665},{"model":"VGG16","method":"CERWU-γ=0","bpw":0.63,"acc":0.678},{"model":"VGG16","method":"CERWU-γ=0","bpw":0.68,"acc":0.6885},{"model":"VGG16","method":"CERWU-γ=0","bpw":0.71,"acc":0.6976},{"model":"VGG16","method":"CERWU-γ=0","bpw":0.73,"acc":0.7055},{"model":"VGG16","method":"CERWU-γ=0","bpw":0.77,"acc":0.707},{"model":"VGG16","method":"CERWU-γ=0","bpw":0.87,"acc":0.7089},{"model":"VGG16","method":"CERWU-γ=0","bpw":0.95,"acc":0.7123},{"model":"VGG16","method":"CERWU-γ=0","bpw":1.05,"acc":0.7146},{"model":"VGG16","method":"CERWU-γ=0","bpw":1.24,"acc":0.7169},{"model":"VGG16","method":"CERWU-γ=0","bpw":1.55,"acc":0.7185},{"model":"VGG16","method":"CERWU-γ=0","bpw":1.8,"acc":0.7195},
{"model":"VGG16","method":"CERWU-λ=0","bpw":0.6,"acc":0},{"model":"VGG16","method":"CERWU-λ=0","bpw":0.68,"acc":0.08},{"model":"VGG16","method":"CERWU-λ=0","bpw":0.76,"acc":0.52},{"model":"VGG16","method":"CERWU-λ=0","bpw":0.87,"acc":0.65},{"model":"VGG16","method":"CERWU-λ=0","bpw":0.95,"acc":0.672},{"model":"VGG16","method":"CERWU-λ=0","bpw":1.0,"acc":0.682},{"model":"VGG16","method":"CERWU-λ=0","bpw":1.05,"acc":0.687},{"model":"VGG16","method":"CERWU-λ=0","bpw":1.08,"acc":0.6927},{"model":"VGG16","method":"CERWU-λ=0","bpw":1.12,"acc":0.695},{"model":"VGG16","method":"CERWU-λ=0","bpw":1.16,"acc":0.6984},{"model":"VGG16","method":"CERWU-λ=0","bpw":1.2,"acc":0.701},{"model":"VGG16","method":"CERWU-λ=0","bpw":1.24,"acc":0.704},{"model":"VGG16","method":"CERWU-λ=0","bpw":1.3,"acc":0.707},{"model":"VGG16","method":"CERWU-λ=0","bpw":1.45,"acc":0.712},{"model":"VGG16","method":"CERWU-λ=0","bpw":1.76,"acc":0.7155},{"model":"VGG16","method":"CERWU-λ=0","bpw":1.82,"acc":0.716},{"model":"VGG16","method":"CERWU-λ=0","bpw":2.13,"acc":0.716},
{"model":"VGG16","method":"NNCodec","bpw":0.2,"acc":0},{"model":"VGG16","method":"NNCodec","bpw":0.26,"acc":0.02},{"model":"VGG16","method":"NNCodec","bpw":0.3,"acc":0.24},{"model":"VGG16","method":"NNCodec","bpw":0.34,"acc":0.4},{"model":"VGG16","method":"NNCodec","bpw":0.45,"acc":0.59},{"model":"VGG16","method":"NNCodec","bpw":0.53,"acc":0.62},{"model":"VGG16","method":"NNCodec","bpw":0.64,"acc":0.655},{"model":"VGG16","method":"NNCodec","bpw":0.75,"acc":0.672},{"model":"VGG16","method":"NNCodec","bpw":0.84,"acc":0.6813},{"model":"VGG16","method":"NNCodec","bpw":0.89,"acc":0.6904},{"model":"VGG16","method":"NNCodec","bpw":0.97,"acc":0.6927},{"model":"VGG16","method":"NNCodec","bpw":1.05,"acc":0.6961},{"model":"VGG16","method":"NNCodec","bpw":1.16,"acc":0.7007},{"model":"VGG16","method":"NNCodec","bpw":1.24,"acc":0.7063},{"model":"VGG16","method":"NNCodec","bpw":1.34,"acc":0.7109},{"model":"VGG16","method":"NNCodec","bpw":1.45,"acc":0.7143},{"model":"VGG16","method":"NNCodec","bpw":1.76,"acc":0.715},{"model":"VGG16","method":"NNCodec","bpw":2.2,"acc":0.7155},{"model":"VGG16","method":"NNCodec","bpw":2.8,"acc":0.716},{"model":"VGG16","method":"NNCodec","bpw":3.59,"acc":0.716},
{"model":"VGG16","method":"RTN+EC","bpw":0.0,"acc":0},{"model":"VGG16","method":"RTN+EC","bpw":0.5,"acc":0},{"model":"VGG16","method":"RTN+EC","bpw":1.06,"acc":0.03},{"model":"VGG16","method":"RTN+EC","bpw":1.25,"acc":0.16},{"model":"VGG16","method":"RTN+EC","bpw":1.33,"acc":0.61},{"model":"VGG16","method":"RTN+EC","bpw":1.42,"acc":0.665},{"model":"VGG16","method":"RTN+EC","bpw":1.52,"acc":0.6836},{"model":"VGG16","method":"RTN+EC","bpw":1.71,"acc":0.6904},{"model":"VGG16","method":"RTN+EC","bpw":1.97,"acc":0.706},{"model":"VGG16","method":"RTN+EC","bpw":2.28,"acc":0.712},{"model":"VGG16","method":"RTN+EC","bpw":2.6,"acc":0.714},
{"model":"MNS","method":"CERWU","bpw":0.18,"acc":0},{"model":"MNS","method":"CERWU","bpw":0.4,"acc":0.01},{"model":"MNS","method":"CERWU","bpw":0.6,"acc":0.04},{"model":"MNS","method":"CERWU","bpw":0.72,"acc":0.06},{"model":"MNS","method":"CERWU","bpw":0.87,"acc":0.085},{"model":"MNS","method":"CERWU","bpw":1.06,"acc":0.11},{"model":"MNS","method":"CERWU","bpw":1.1,"acc":0.15},{"model":"MNS","method":"CERWU","bpw":1.14,"acc":0.3},{"model":"MNS","method":"CERWU","bpw":1.25,"acc":0.31},{"model":"MNS","method":"CERWU","bpw":1.29,"acc":0.39},{"model":"MNS","method":"CERWU","bpw":1.44,"acc":0.445},{"model":"MNS","method":"CERWU","bpw":1.71,"acc":0.46},{"model":"MNS","method":"CERWU","bpw":1.78,"acc":0.5},{"model":"MNS","method":"CERWU","bpw":1.9,"acc":0.59},{"model":"MNS","method":"CERWU","bpw":2.2,"acc":0.605},{"model":"MNS","method":"CERWU","bpw":2.59,"acc":0.645},{"model":"MNS","method":"CERWU","bpw":2.97,"acc":0.655},{"model":"MNS","method":"CERWU","bpw":3.3,"acc":0.66},{"model":"MNS","method":"CERWU","bpw":3.65,"acc":0.665},{"model":"MNS","method":"CERWU","bpw":3.96,"acc":0.67},{"model":"MNS","method":"CERWU","bpw":4.3,"acc":0.672},
{"model":"MNS","method":"CERWU-γ=0","bpw":0.2,"acc":0},{"model":"MNS","method":"CERWU-γ=0","bpw":0.45,"acc":0.005},{"model":"MNS","method":"CERWU-γ=0","bpw":0.68,"acc":0.02},{"model":"MNS","method":"CERWU-γ=0","bpw":0.91,"acc":0.03},{"model":"MNS","method":"CERWU-γ=0","bpw":1.02,"acc":0.085},{"model":"MNS","method":"CERWU-γ=0","bpw":1.05,"acc":0.22},{"model":"MNS","method":"CERWU-γ=0","bpw":1.14,"acc":0.245},{"model":"MNS","method":"CERWU-γ=0","bpw":1.21,"acc":0.31},{"model":"MNS","method":"CERWU-γ=0","bpw":1.33,"acc":0.325},{"model":"MNS","method":"CERWU-γ=0","bpw":1.52,"acc":0.35},{"model":"MNS","method":"CERWU-γ=0","bpw":1.75,"acc":0.46},{"model":"MNS","method":"CERWU-γ=0","bpw":1.86,"acc":0.525},{"model":"MNS","method":"CERWU-γ=0","bpw":1.97,"acc":0.58},{"model":"MNS","method":"CERWU-γ=0","bpw":2.28,"acc":0.59},{"model":"MNS","method":"CERWU-γ=0","bpw":2.59,"acc":0.63},{"model":"MNS","method":"CERWU-γ=0","bpw":2.97,"acc":0.65},{"model":"MNS","method":"CERWU-γ=0","bpw":3.3,"acc":0.66},{"model":"MNS","method":"CERWU-γ=0","bpw":3.65,"acc":0.665},{"model":"MNS","method":"CERWU-γ=0","bpw":3.96,"acc":0.67},{"model":"MNS","method":"CERWU-γ=0","bpw":4.3,"acc":0.672},
{"model":"MNS","method":"CERWU-λ=0","bpw":0.41,"acc":0},{"model":"MNS","method":"CERWU-λ=0","bpw":1.06,"acc":0},{"model":"MNS","method":"CERWU-λ=0","bpw":1.56,"acc":0.02},{"model":"MNS","method":"CERWU-λ=0","bpw":1.9,"acc":0.205},{"model":"MNS","method":"CERWU-λ=0","bpw":2.4,"acc":0.54},{"model":"MNS","method":"CERWU-λ=0","bpw":2.81,"acc":0.565},{"model":"MNS","method":"CERWU-λ=0","bpw":3.31,"acc":0.66},{"model":"MNS","method":"CERWU-λ=0","bpw":3.65,"acc":0.67},{"model":"MNS","method":"CERWU-λ=0","bpw":3.96,"acc":0.67},{"model":"MNS","method":"CERWU-λ=0","bpw":4.3,"acc":0.672},
{"model":"MNS","method":"NNCodec","bpw":0.45,"acc":0},{"model":"MNS","method":"NNCodec","bpw":1.06,"acc":0},{"model":"MNS","method":"NNCodec","bpw":1.52,"acc":0.005},{"model":"MNS","method":"NNCodec","bpw":1.75,"acc":0.045},{"model":"MNS","method":"NNCodec","bpw":1.97,"acc":0.23},{"model":"MNS","method":"NNCodec","bpw":2.13,"acc":0.325},{"model":"MNS","method":"NNCodec","bpw":2.28,"acc":0.43},{"model":"MNS","method":"NNCodec","bpw":2.47,"acc":0.5},{"model":"MNS","method":"NNCodec","bpw":2.81,"acc":0.5},{"model":"MNS","method":"NNCodec","bpw":2.97,"acc":0.55},{"model":"MNS","method":"NNCodec","bpw":3.31,"acc":0.62},{"model":"MNS","method":"NNCodec","bpw":3.65,"acc":0.645},{"model":"MNS","method":"NNCodec","bpw":3.96,"acc":0.66},{"model":"MNS","method":"NNCodec","bpw":4.3,"acc":0.665},
{"model":"MNS","method":"RTN+EC","bpw":0.18,"acc":0},{"model":"MNS","method":"RTN+EC","bpw":1.0,"acc":0},{"model":"MNS","method":"RTN+EC","bpw":1.7,"acc":0.005},{"model":"MNS","method":"RTN+EC","bpw":2.28,"acc":0.02},{"model":"MNS","method":"RTN+EC","bpw":2.55,"acc":0.08},{"model":"MNS","method":"RTN+EC","bpw":2.8,"acc":0.18},{"model":"MNS","method":"RTN+EC","bpw":3.05,"acc":0.28},{"model":"MNS","method":"RTN+EC","bpw":3.31,"acc":0.38},{"model":"MNS","method":"RTN+EC","bpw":3.73,"acc":0.47},{"model":"MNS","method":"RTN+EC","bpw":3.96,"acc":0.51},{"model":"MNS","method":"RTN+EC","bpw":4.3,"acc":0.545},
{"model":"MNL","method":"CERWU","bpw":0.32,"acc":0},{"model":"MNL","method":"CERWU","bpw":0.55,"acc":0.02},{"model":"MNL","method":"CERWU","bpw":0.7,"acc":0.07},{"model":"MNL","method":"CERWU","bpw":0.78,"acc":0.18},{"model":"MNL","method":"CERWU","bpw":0.85,"acc":0.31},{"model":"MNL","method":"CERWU","bpw":0.97,"acc":0.365},{"model":"MNL","method":"CERWU","bpw":1.12,"acc":0.42},{"model":"MNL","method":"CERWU","bpw":1.2,"acc":0.485},{"model":"MNL","method":"CERWU","bpw":1.36,"acc":0.55},{"model":"MNL","method":"CERWU","bpw":1.43,"acc":0.62},{"model":"MNL","method":"CERWU","bpw":1.62,"acc":0.67},{"model":"MNL","method":"CERWU","bpw":1.97,"acc":0.71},{"model":"MNL","method":"CERWU","bpw":2.43,"acc":0.725},{"model":"MNL","method":"CERWU","bpw":2.97,"acc":0.74},{"model":"MNL","method":"CERWU","bpw":3.66,"acc":0.745},{"model":"MNL","method":"CERWU","bpw":4.3,"acc":0.75},
{"model":"MNL","method":"CERWU-γ=0","bpw":0.34,"acc":0},{"model":"MNL","method":"CERWU-γ=0","bpw":0.58,"acc":0.03},{"model":"MNL","method":"CERWU-γ=0","bpw":0.74,"acc":0.085},{"model":"MNL","method":"CERWU-γ=0","bpw":0.78,"acc":0.16},{"model":"MNL","method":"CERWU-γ=0","bpw":0.85,"acc":0.22},{"model":"MNL","method":"CERWU-γ=0","bpw":1.01,"acc":0.27},{"model":"MNL","method":"CERWU-γ=0","bpw":1.11,"acc":0.3},{"model":"MNL","method":"CERWU-γ=0","bpw":1.2,"acc":0.485},{"model":"MNL","method":"CERWU-γ=0","bpw":1.36,"acc":0.53},{"model":"MNL","method":"CERWU-γ=0","bpw":1.43,"acc":0.62},{"model":"MNL","method":"CERWU-γ=0","bpw":1.66,"acc":0.685},{"model":"MNL","method":"CERWU-γ=0","bpw":2.05,"acc":0.72},{"model":"MNL","method":"CERWU-γ=0","bpw":2.59,"acc":0.74},{"model":"MNL","method":"CERWU-γ=0","bpw":3.66,"acc":0.745},{"model":"MNL","method":"CERWU-γ=0","bpw":4.3,"acc":0.75},
{"model":"MNL","method":"CERWU-λ=0","bpw":0.28,"acc":0},{"model":"MNL","method":"CERWU-λ=0","bpw":0.89,"acc":0},{"model":"MNL","method":"CERWU-λ=0","bpw":1.24,"acc":0.03},{"model":"MNL","method":"CERWU-λ=0","bpw":1.59,"acc":0.27},{"model":"MNL","method":"CERWU-λ=0","bpw":2.09,"acc":0.605},{"model":"MNL","method":"CERWU-λ=0","bpw":2.43,"acc":0.685},{"model":"MNL","method":"CERWU-λ=0","bpw":2.97,"acc":0.74},{"model":"MNL","method":"CERWU-λ=0","bpw":3.39,"acc":0.74},{"model":"MNL","method":"CERWU-λ=0","bpw":4.3,"acc":0.745},
{"model":"MNL","method":"NNCodec","bpw":0.05,"acc":0},{"model":"MNL","method":"NNCodec","bpw":1.0,"acc":0},{"model":"MNL","method":"NNCodec","bpw":1.4,"acc":0},{"model":"MNL","method":"NNCodec","bpw":1.66,"acc":0.02},{"model":"MNL","method":"NNCodec","bpw":1.82,"acc":0.14},{"model":"MNL","method":"NNCodec","bpw":2.09,"acc":0.157},{"model":"MNL","method":"NNCodec","bpw":2.28,"acc":0.39},{"model":"MNL","method":"NNCodec","bpw":2.51,"acc":0.46},{"model":"MNL","method":"NNCodec","bpw":2.74,"acc":0.645},{"model":"MNL","method":"NNCodec","bpw":2.97,"acc":0.66},{"model":"MNL","method":"NNCodec","bpw":3.28,"acc":0.71},{"model":"MNL","method":"NNCodec","bpw":3.66,"acc":0.73},{"model":"MNL","method":"NNCodec","bpw":4.3,"acc":0.745},
{"model":"MNL","method":"RTN+EC","bpw":0.3,"acc":0},{"model":"MNL","method":"RTN+EC","bpw":1.5,"acc":0},{"model":"MNL","method":"RTN+EC","bpw":2.0,"acc":0.005},{"model":"MNL","method":"RTN+EC","bpw":2.2,"acc":0.03},{"model":"MNL","method":"RTN+EC","bpw":2.43,"acc":0.085},{"model":"MNL","method":"RTN+EC","bpw":2.7,"acc":0.26},{"model":"MNL","method":"RTN+EC","bpw":2.97,"acc":0.445},{"model":"MNL","method":"RTN+EC","bpw":3.39,"acc":0.59},{"model":"MNL","method":"RTN+EC","bpw":3.8,"acc":0.66},{"model":"MNL","method":"RTN+EC","bpw":4.3,"acc":0.715}
 ]
},
"concat":[
  {"width":198,"height":119,"title":{"text":"ResNet18 (ImageNet) (11M)"},"resolve":{"scale":{"x":"independent","y":"independent"}},"layer":[
   {"encoding":{"y":{"field":"acc","type":"quantitative","scale":{"domain":[0,0.935],"nice":false,"zero":false},"axis":{"values":[0,0.2,0.4,0.6,0.8],"format":".1f","domain":false,"title":"Top-1 Accuracy","tickSize":3.5,"labelPadding":3,"titlePadding":3}},"color":{"field":"method","type":"nominal","scale":{"domain":["CERWU","CERWU-γ=0","CERWU-λ=0","NNCodec","RTN+EC","Original"],"range":["#8da0cb","#fc8d62","#66c2a5","#a6d854","#e78ac3","#bbbbbb"]},"legend":{"title":null,"orient":"none","legendX":408,"legendY":287,"columns":2,"symbolType":"M-1.45,0H1.45","symbolSize":170,"symbolStrokeWidth":1.5,"labelFontSize":10,"labelColor":"#000","strokeColor":"#cccccc","fillColor":"#ffffff","padding":4,"cornerRadius":3,"rowPadding":0,"columnPadding":24,"labelOffset":10,"encode":{"symbols":{"update":{"stroke":{"scale":"color","field":"value"},"strokeDash":{"scale":"strokeDash","field":"value"},"fill":{"value":"transparent"}}}}}},"strokeDash":{"field":"method","type":"nominal","scale":{"domain":["CERWU","CERWU-γ=0","CERWU-λ=0","NNCodec","RTN+EC","Original"],"range":[[1,0],[1,0],[1,0],[6,2,1.5,2],[6,2,1.5,2],[5,2.5]]},"legend":null}},
    "layer":[
     {"data":{"name":"orig"},"transform":[{"filter":"datum.model==='R18'"}],"mark":{"type":"rule","strokeWidth":1.2},"encoding":{}},
     {"data":{"name":"curves"},"transform":[{"filter":"datum.model==='R18'"}],"mark":{"type":"line","strokeWidth":1.5,"clip":true},"encoding":{"x":{"field":"bpw","type":"quantitative","scale":{"domain":[-0.21,4.36],"nice":false,"zero":false},"axis":{"values":[0,1,2,3,4],"labels":false,"ticks":false,"domain":false,"title":null}}}},
     {"data":{"name":"curves"},"transform":[{"filter":"datum.model==='R18' && datum.method!=='CERWU-λ=0'"}],"mark":{"type":"point","filled":true,"size":14,"opacity":1,"clip":true},"encoding":{"x":{"field":"bpw","type":"quantitative"},"shape":{"field":"method","type":"nominal","scale":{"domain":["CERWU","CERWU-γ=0","NNCodec","RTN+EC"],"range":["triangle-up","circle","triangle-right","circle"]},"legend":null}}},
     {"data":{"name":"curves"},"transform":[{"filter":"datum.model==='R18' && datum.method==='CERWU-λ=0'"}],"mark":{"type":"point","shape":"M-1,-1L1,1M-1,1L1,-1","filled":false,"size":100,"strokeWidth":1,"opacity":1,"clip":true},"encoding":{"x":{"field":"bpw","type":"quantitative"}}},
     {"data":{"name":"boxes"},"transform":[{"filter":"datum.model==='R18'"}],"mark":{"type":"rect","filled":false,"strokeWidth":1.5},"encoding":{"x":{"field":"x0","type":"quantitative"},"x2":{"field":"x1"},"y":{"field":"y0","type":"quantitative","scale":{"domain":[0,0.935],"nice":false,"zero":false},"axis":{"values":[0,0.2,0.4,0.6,0.8],"format":".1f","domain":false,"title":"Top-1 Accuracy","tickSize":3.5,"labelPadding":3,"titlePadding":3}},"y2":{"field":"y1"},"color":{"value":"#dc3d6a"},"strokeDash":{"value":[1,0]}}}
    ]},
   {"encoding":{"y":{"field":"acc","type":"quantitative","scale":{"domain":[0.665,0.71],"range":[114,47],"nice":false,"zero":false},"axis":{"orient":"left","offset":-104,"values":[0.68,0.7],"format":".2f","labelFontSize":7,"tickSize":3,"labelPadding":2,"domain":false,"title":null,"gridDash":[3,2],"gridColor":"#b0b0b0","zindex":1}},"color":{"field":"method","type":"nominal"},"strokeDash":{"field":"method","type":"nominal"}},
    "layer":[
     {"data":{"name":"boxes"},"transform":[{"filter":"datum.model==='R18'"}],"mark":{"type":"rect","fill":"white","stroke":"#222222","strokeWidth":1},"encoding":{"x":{"field":"x0","type":"quantitative","scale":{"domain":[1.18,2.65],"range":[104,193],"nice":false,"zero":false},"axis":{"orient":"top","offset":-47,"values":[1.5,2,2.5],"format":".1f","labelFontSize":7,"tickSize":3,"labelPadding":2,"domain":false,"title":null,"gridDash":[3,2],"gridColor":"#b0b0b0","zindex":1}},"x2":{"field":"x1"},"y":{"field":"y0","type":"quantitative","scale":{"domain":[0.665,0.71],"range":[114,47],"nice":false,"zero":false},"axis":{"orient":"left","offset":-104,"values":[0.68,0.7],"format":".2f","labelFontSize":7,"tickSize":3,"labelPadding":2,"domain":false,"title":null,"gridDash":[3,2],"gridColor":"#b0b0b0","zindex":1}},"y2":{"field":"y1"},"color":{"value":"white"},"strokeDash":{"value":[1,0]}}},
     {"data":{"name":"boxes"},"transform":[{"filter":"datum.model==='R18'"},{"lookup":"model","from":{"data":{"name":"orig"},"key":"model","fields":["acc","method"]}}],"mark":{"type":"rule","strokeWidth":1.2},"encoding":{"x":{"field":"x0","type":"quantitative"},"x2":{"field":"x1"}}},
     {"data":{"name":"curves"},"transform":[{"filter":"datum.model==='R18'"}],"mark":{"type":"line","strokeWidth":1.5,"clip":{"path":"M104,47H193V114H104Z"}},"encoding":{"x":{"field":"bpw","type":"quantitative"}}},
     {"data":{"name":"curves"},"transform":[{"filter":"datum.model==='R18' && datum.method!=='CERWU-λ=0'"}],"mark":{"type":"point","filled":true,"size":14,"opacity":1,"clip":{"path":"M104,47H193V114H104Z"}},"encoding":{"x":{"field":"bpw","type":"quantitative"},"shape":{"field":"method","type":"nominal"}}},
     {"data":{"name":"curves"},"transform":[{"filter":"datum.model==='R18' && datum.method==='CERWU-λ=0'"}],"mark":{"type":"point","shape":"M-1,-1L1,1M-1,1L1,-1","filled":false,"size":100,"strokeWidth":1,"opacity":1,"clip":{"path":"M104,47H193V114H104Z"}},"encoding":{"x":{"field":"bpw","type":"quantitative"}}}
    ]}
  ]},
  {"width":198,"height":119,"title":{"text":"ResNet34 (ImageNet) (21M)"},"resolve":{"scale":{"x":"independent","y":"independent"}},"layer":[
   {"encoding":{"y":{"field":"acc","type":"quantitative","scale":{"domain":[0,0.935],"nice":false,"zero":false},"axis":{"values":[0,0.2,0.4,0.6,0.8],"labels":false,"ticks":false,"domain":false,"title":null}},"color":{"field":"method","type":"nominal"},"strokeDash":{"field":"method","type":"nominal"}},
    "layer":[
     {"data":{"name":"orig"},"transform":[{"filter":"datum.model==='R34'"}],"mark":{"type":"rule","strokeWidth":1.2},"encoding":{}},
     {"data":{"name":"curves"},"transform":[{"filter":"datum.model==='R34'"}],"mark":{"type":"line","strokeWidth":1.5,"clip":true},"encoding":{"x":{"field":"bpw","type":"quantitative","scale":{"domain":[-0.21,4.36],"nice":false,"zero":false},"axis":{"values":[0,1,2,3,4],"labels":false,"ticks":false,"domain":false,"title":null}}}},
     {"data":{"name":"curves"},"transform":[{"filter":"datum.model==='R34' && datum.method!=='CERWU-λ=0'"}],"mark":{"type":"point","filled":true,"size":14,"opacity":1,"clip":true},"encoding":{"x":{"field":"bpw","type":"quantitative"},"shape":{"field":"method","type":"nominal"}}},
     {"data":{"name":"curves"},"transform":[{"filter":"datum.model==='R34' && datum.method==='CERWU-λ=0'"}],"mark":{"type":"point","shape":"M-1,-1L1,1M-1,1L1,-1","filled":false,"size":100,"strokeWidth":1,"opacity":1,"clip":true},"encoding":{"x":{"field":"bpw","type":"quantitative"}}},
     {"data":{"name":"boxes"},"transform":[{"filter":"datum.model==='R34'"}],"mark":{"type":"rect","filled":false,"strokeWidth":1.5},"encoding":{"x":{"field":"x0","type":"quantitative"},"x2":{"field":"x1"},"y":{"field":"y0","type":"quantitative","scale":{"domain":[0,0.935],"nice":false,"zero":false},"axis":{"values":[0,0.2,0.4,0.6,0.8],"labels":false,"ticks":false,"domain":false,"title":null}},"y2":{"field":"y1"},"color":{"value":"#dc3d6a"},"strokeDash":{"value":[1,0]}}}
    ]},
   {"encoding":{"y":{"field":"acc","type":"quantitative","scale":{"domain":[0.6935,0.7405],"range":[114,47],"nice":false,"zero":false},"axis":{"orient":"left","offset":-104,"values":[0.7,0.72],"format":".2f","labelFontSize":7,"tickSize":3,"labelPadding":2,"domain":false,"title":null,"gridDash":[3,2],"gridColor":"#b0b0b0","zindex":1}},"color":{"field":"method","type":"nominal"},"strokeDash":{"field":"method","type":"nominal"}},
    "layer":[
     {"data":{"name":"boxes"},"transform":[{"filter":"datum.model==='R34'"}],"mark":{"type":"rect","fill":"white","stroke":"#222222","strokeWidth":1},"encoding":{"x":{"field":"x0","type":"quantitative","scale":{"domain":[1.09,2.7],"range":[104,193],"nice":false,"zero":false},"axis":{"orient":"top","offset":-47,"values":[1.5,2,2.5],"format":".1f","labelFontSize":7,"tickSize":3,"labelPadding":2,"domain":false,"title":null,"gridDash":[3,2],"gridColor":"#b0b0b0","zindex":1}},"x2":{"field":"x1"},"y":{"field":"y0","type":"quantitative","scale":{"domain":[0.6935,0.7405],"range":[114,47],"nice":false,"zero":false},"axis":{"orient":"left","offset":-104,"values":[0.7,0.72],"format":".2f","labelFontSize":7,"tickSize":3,"labelPadding":2,"domain":false,"title":null,"gridDash":[3,2],"gridColor":"#b0b0b0","zindex":1}},"y2":{"field":"y1"},"color":{"value":"white"},"strokeDash":{"value":[1,0]}}},
     {"data":{"name":"boxes"},"transform":[{"filter":"datum.model==='R34'"},{"lookup":"model","from":{"data":{"name":"orig"},"key":"model","fields":["acc","method"]}}],"mark":{"type":"rule","strokeWidth":1.2},"encoding":{"x":{"field":"x0","type":"quantitative"},"x2":{"field":"x1"}}},
     {"data":{"name":"curves"},"transform":[{"filter":"datum.model==='R34'"}],"mark":{"type":"line","strokeWidth":1.5,"clip":{"path":"M104,47H193V114H104Z"}},"encoding":{"x":{"field":"bpw","type":"quantitative"}}},
     {"data":{"name":"curves"},"transform":[{"filter":"datum.model==='R34' && datum.method!=='CERWU-λ=0'"}],"mark":{"type":"point","filled":true,"size":14,"opacity":1,"clip":{"path":"M104,47H193V114H104Z"}},"encoding":{"x":{"field":"bpw","type":"quantitative"},"shape":{"field":"method","type":"nominal"}}},
     {"data":{"name":"curves"},"transform":[{"filter":"datum.model==='R34' && datum.method==='CERWU-λ=0'"}],"mark":{"type":"point","shape":"M-1,-1L1,1M-1,1L1,-1","filled":false,"size":100,"strokeWidth":1,"opacity":1,"clip":{"path":"M104,47H193V114H104Z"}},"encoding":{"x":{"field":"bpw","type":"quantitative"}}}
    ]}
  ]},
  {"width":198,"height":119,"title":{"text":"ResNet50 (ImageNet) (23M)"},"resolve":{"scale":{"x":"independent","y":"independent"}},"layer":[
   {"encoding":{"y":{"field":"acc","type":"quantitative","scale":{"domain":[0,0.935],"nice":false,"zero":false},"axis":{"values":[0,0.2,0.4,0.6,0.8],"labels":false,"ticks":false,"domain":false,"title":null}},"color":{"field":"method","type":"nominal"},"strokeDash":{"field":"method","type":"nominal"}},
    "layer":[
     {"data":{"name":"orig"},"transform":[{"filter":"datum.model==='R50'"}],"mark":{"type":"rule","strokeWidth":1.2},"encoding":{}},
     {"data":{"name":"curves"},"transform":[{"filter":"datum.model==='R50'"}],"mark":{"type":"line","strokeWidth":1.5,"clip":true},"encoding":{"x":{"field":"bpw","type":"quantitative","scale":{"domain":[-0.21,4.36],"nice":false,"zero":false},"axis":{"values":[0,1,2,3,4],"labels":false,"ticks":false,"domain":false,"title":null}}}},
     {"data":{"name":"curves"},"transform":[{"filter":"datum.model==='R50' && datum.method!=='CERWU-λ=0'"}],"mark":{"type":"point","filled":true,"size":14,"opacity":1,"clip":true},"encoding":{"x":{"field":"bpw","type":"quantitative"},"shape":{"field":"method","type":"nominal"}}},
     {"data":{"name":"curves"},"transform":[{"filter":"datum.model==='R50' && datum.method==='CERWU-λ=0'"}],"mark":{"type":"point","shape":"M-1,-1L1,1M-1,1L1,-1","filled":false,"size":100,"strokeWidth":1,"opacity":1,"clip":true},"encoding":{"x":{"field":"bpw","type":"quantitative"}}},
     {"data":{"name":"boxes"},"transform":[{"filter":"datum.model==='R50'"}],"mark":{"type":"rect","filled":false,"strokeWidth":1.5},"encoding":{"x":{"field":"x0","type":"quantitative"},"x2":{"field":"x1"},"y":{"field":"y0","type":"quantitative","scale":{"domain":[0,0.935],"nice":false,"zero":false},"axis":{"values":[0,0.2,0.4,0.6,0.8],"labels":false,"ticks":false,"domain":false,"title":null}},"y2":{"field":"y1"},"color":{"value":"#dc3d6a"},"strokeDash":{"value":[1,0]}}}
    ]},
   {"encoding":{"y":{"field":"acc","type":"quantitative","scale":{"domain":[0.724,0.773],"range":[114,47],"nice":false,"zero":false},"axis":{"orient":"left","offset":-104,"values":[0.74,0.76],"format":".2f","labelFontSize":7,"tickSize":3,"labelPadding":2,"domain":false,"title":null,"gridDash":[3,2],"gridColor":"#b0b0b0","zindex":1}},"color":{"field":"method","type":"nominal"},"strokeDash":{"field":"method","type":"nominal"}},
    "layer":[
     {"data":{"name":"boxes"},"transform":[{"filter":"datum.model==='R50'"}],"mark":{"type":"rect","fill":"white","stroke":"#222222","strokeWidth":1},"encoding":{"x":{"field":"x0","type":"quantitative","scale":{"domain":[1.2,2.65],"range":[104,193],"nice":false,"zero":false},"axis":{"orient":"top","offset":-47,"values":[1.5,2,2.5],"format":".1f","labelFontSize":7,"tickSize":3,"labelPadding":2,"domain":false,"title":null,"gridDash":[3,2],"gridColor":"#b0b0b0","zindex":1}},"x2":{"field":"x1"},"y":{"field":"y0","type":"quantitative","scale":{"domain":[0.724,0.773],"range":[114,47],"nice":false,"zero":false},"axis":{"orient":"left","offset":-104,"values":[0.74,0.76],"format":".2f","labelFontSize":7,"tickSize":3,"labelPadding":2,"domain":false,"title":null,"gridDash":[3,2],"gridColor":"#b0b0b0","zindex":1}},"y2":{"field":"y1"},"color":{"value":"white"},"strokeDash":{"value":[1,0]}}},
     {"data":{"name":"boxes"},"transform":[{"filter":"datum.model==='R50'"},{"lookup":"model","from":{"data":{"name":"orig"},"key":"model","fields":["acc","method"]}}],"mark":{"type":"rule","strokeWidth":1.2},"encoding":{"x":{"field":"x0","type":"quantitative"},"x2":{"field":"x1"}}},
     {"data":{"name":"curves"},"transform":[{"filter":"datum.model==='R50'"}],"mark":{"type":"line","strokeWidth":1.5,"clip":{"path":"M104,47H193V114H104Z"}},"encoding":{"x":{"field":"bpw","type":"quantitative"}}},
     {"data":{"name":"curves"},"transform":[{"filter":"datum.model==='R50' && datum.method!=='CERWU-λ=0'"}],"mark":{"type":"point","filled":true,"size":14,"opacity":1,"clip":{"path":"M104,47H193V114H104Z"}},"encoding":{"x":{"field":"bpw","type":"quantitative"},"shape":{"field":"method","type":"nominal"}}},
     {"data":{"name":"curves"},"transform":[{"filter":"datum.model==='R50' && datum.method==='CERWU-λ=0'"}],"mark":{"type":"point","shape":"M-1,-1L1,1M-1,1L1,-1","filled":false,"size":100,"strokeWidth":1,"opacity":1,"clip":{"path":"M104,47H193V114H104Z"}},"encoding":{"x":{"field":"bpw","type":"quantitative"}}}
    ]}
  ]},
  {"width":198,"height":117,"title":{"text":"ResNet101 (ImageNet) (42M)"},"resolve":{"scale":{"x":"independent","y":"independent"}},"layer":[
   {"encoding":{"y":{"field":"acc","type":"quantitative","scale":{"domain":[0,0.935],"nice":false,"zero":false},"axis":{"values":[0,0.2,0.4,0.6,0.8],"format":".1f","domain":false,"title":"Top-1 Accuracy","tickSize":3.5,"labelPadding":3,"titlePadding":3}},"color":{"field":"method","type":"nominal"},"strokeDash":{"field":"method","type":"nominal"}},
    "layer":[
     {"data":{"name":"orig"},"transform":[{"filter":"datum.model==='R101'"}],"mark":{"type":"rule","strokeWidth":1.2},"encoding":{}},
     {"data":{"name":"curves"},"transform":[{"filter":"datum.model==='R101'"}],"mark":{"type":"line","strokeWidth":1.5,"clip":true},"encoding":{"x":{"field":"bpw","type":"quantitative","scale":{"domain":[-0.21,4.36],"nice":false,"zero":false},"axis":{"values":[0,1,2,3,4],"labels":false,"ticks":false,"domain":false,"title":null}}}},
     {"data":{"name":"curves"},"transform":[{"filter":"datum.model==='R101' && datum.method!=='CERWU-λ=0'"}],"mark":{"type":"point","filled":true,"size":14,"opacity":1,"clip":true},"encoding":{"x":{"field":"bpw","type":"quantitative"},"shape":{"field":"method","type":"nominal"}}},
     {"data":{"name":"curves"},"transform":[{"filter":"datum.model==='R101' && datum.method==='CERWU-λ=0'"}],"mark":{"type":"point","shape":"M-1,-1L1,1M-1,1L1,-1","filled":false,"size":100,"strokeWidth":1,"opacity":1,"clip":true},"encoding":{"x":{"field":"bpw","type":"quantitative"}}},
     {"data":{"name":"boxes"},"transform":[{"filter":"datum.model==='R101'"}],"mark":{"type":"rect","filled":false,"strokeWidth":1.5},"encoding":{"x":{"field":"x0","type":"quantitative"},"x2":{"field":"x1"},"y":{"field":"y0","type":"quantitative","scale":{"domain":[0,0.935],"nice":false,"zero":false},"axis":{"values":[0,0.2,0.4,0.6,0.8],"format":".1f","domain":false,"title":"Top-1 Accuracy","tickSize":3.5,"labelPadding":3,"titlePadding":3}},"y2":{"field":"y1"},"color":{"value":"#dc3d6a"},"strokeDash":{"value":[1,0]}}}
    ]},
   {"encoding":{"y":{"field":"acc","type":"quantitative","scale":{"domain":[0.7375,0.787],"range":[113,46],"nice":false,"zero":false},"axis":{"orient":"left","offset":-104,"values":[0.74,0.76,0.78],"format":".2f","labelFontSize":7,"tickSize":3,"labelPadding":2,"domain":false,"title":null,"gridDash":[3,2],"gridColor":"#b0b0b0","zindex":1}},"color":{"field":"method","type":"nominal"},"strokeDash":{"field":"method","type":"nominal"}},
    "layer":[
     {"data":{"name":"boxes"},"transform":[{"filter":"datum.model==='R101'"}],"mark":{"type":"rect","fill":"white","stroke":"#222222","strokeWidth":1},"encoding":{"x":{"field":"x0","type":"quantitative","scale":{"domain":[1.19,2.65],"range":[104,193],"nice":false,"zero":false},"axis":{"orient":"top","offset":-46,"values":[1.5,2,2.5],"format":".1f","labelFontSize":7,"tickSize":3,"labelPadding":2,"domain":false,"title":null,"gridDash":[3,2],"gridColor":"#b0b0b0","zindex":1}},"x2":{"field":"x1"},"y":{"field":"y0","type":"quantitative","scale":{"domain":[0.7375,0.787],"range":[113,46],"nice":false,"zero":false},"axis":{"orient":"left","offset":-104,"values":[0.74,0.76,0.78],"format":".2f","labelFontSize":7,"tickSize":3,"labelPadding":2,"domain":false,"title":null,"gridDash":[3,2],"gridColor":"#b0b0b0","zindex":1}},"y2":{"field":"y1"},"color":{"value":"white"},"strokeDash":{"value":[1,0]}}},
     {"data":{"name":"boxes"},"transform":[{"filter":"datum.model==='R101'"},{"lookup":"model","from":{"data":{"name":"orig"},"key":"model","fields":["acc","method"]}}],"mark":{"type":"rule","strokeWidth":1.2},"encoding":{"x":{"field":"x0","type":"quantitative"},"x2":{"field":"x1"}}},
     {"data":{"name":"curves"},"transform":[{"filter":"datum.model==='R101'"}],"mark":{"type":"line","strokeWidth":1.5,"clip":{"path":"M104,46H193V113H104Z"}},"encoding":{"x":{"field":"bpw","type":"quantitative"}}},
     {"data":{"name":"curves"},"transform":[{"filter":"datum.model==='R101' && datum.method!=='CERWU-λ=0'"}],"mark":{"type":"point","filled":true,"size":14,"opacity":1,"clip":{"path":"M104,46H193V113H104Z"}},"encoding":{"x":{"field":"bpw","type":"quantitative"},"shape":{"field":"method","type":"nominal"}}},
     {"data":{"name":"curves"},"transform":[{"filter":"datum.model==='R101' && datum.method==='CERWU-λ=0'"}],"mark":{"type":"point","shape":"M-1,-1L1,1M-1,1L1,-1","filled":false,"size":100,"strokeWidth":1,"opacity":1,"clip":{"path":"M104,46H193V113H104Z"}},"encoding":{"x":{"field":"bpw","type":"quantitative"}}}
    ]}
  ]},
  {"width":198,"height":117,"title":{"text":"ResNet152 (ImageNet) (58M)"},"resolve":{"scale":{"x":"independent","y":"independent"}},"layer":[
   {"encoding":{"y":{"field":"acc","type":"quantitative","scale":{"domain":[0,0.935],"nice":false,"zero":false},"axis":{"values":[0,0.2,0.4,0.6,0.8],"labels":false,"ticks":false,"domain":false,"title":null}},"color":{"field":"method","type":"nominal"},"strokeDash":{"field":"method","type":"nominal"}},
    "layer":[
     {"data":{"name":"orig"},"transform":[{"filter":"datum.model==='R152'"}],"mark":{"type":"rule","strokeWidth":1.2},"encoding":{}},
     {"data":{"name":"curves"},"transform":[{"filter":"datum.model==='R152'"}],"mark":{"type":"line","strokeWidth":1.5,"clip":true},"encoding":{"x":{"field":"bpw","type":"quantitative","scale":{"domain":[-0.21,4.36],"nice":false,"zero":false},"axis":{"values":[0,1,2,3,4],"labels":false,"ticks":false,"domain":false,"title":null}}}},
     {"data":{"name":"curves"},"transform":[{"filter":"datum.model==='R152' && datum.method!=='CERWU-λ=0'"}],"mark":{"type":"point","filled":true,"size":14,"opacity":1,"clip":true},"encoding":{"x":{"field":"bpw","type":"quantitative"},"shape":{"field":"method","type":"nominal"}}},
     {"data":{"name":"curves"},"transform":[{"filter":"datum.model==='R152' && datum.method==='CERWU-λ=0'"}],"mark":{"type":"point","shape":"M-1,-1L1,1M-1,1L1,-1","filled":false,"size":100,"strokeWidth":1,"opacity":1,"clip":true},"encoding":{"x":{"field":"bpw","type":"quantitative"}}},
     {"data":{"name":"boxes"},"transform":[{"filter":"datum.model==='R152'"}],"mark":{"type":"rect","filled":false,"strokeWidth":1.5},"encoding":{"x":{"field":"x0","type":"quantitative"},"x2":{"field":"x1"},"y":{"field":"y0","type":"quantitative","scale":{"domain":[0,0.935],"nice":false,"zero":false},"axis":{"values":[0,0.2,0.4,0.6,0.8],"labels":false,"ticks":false,"domain":false,"title":null}},"y2":{"field":"y1"},"color":{"value":"#dc3d6a"},"strokeDash":{"value":[1,0]}}}
    ]},
   {"encoding":{"y":{"field":"acc","type":"quantitative","scale":{"domain":[0.7485,0.7998],"range":[113,46],"nice":false,"zero":false},"axis":{"orient":"left","offset":-104,"values":[0.76,0.78],"format":".2f","labelFontSize":7,"tickSize":3,"labelPadding":2,"domain":false,"title":null,"gridDash":[3,2],"gridColor":"#b0b0b0","zindex":1}},"color":{"field":"method","type":"nominal"},"strokeDash":{"field":"method","type":"nominal"}},
    "layer":[
     {"data":{"name":"boxes"},"transform":[{"filter":"datum.model==='R152'"}],"mark":{"type":"rect","fill":"white","stroke":"#222222","strokeWidth":1},"encoding":{"x":{"field":"x0","type":"quantitative","scale":{"domain":[1.41,2.87],"range":[104,193],"nice":false,"zero":false},"axis":{"orient":"top","offset":-46,"values":[1.5,2,2.5],"format":".1f","labelFontSize":7,"tickSize":3,"labelPadding":2,"domain":false,"title":null,"gridDash":[3,2],"gridColor":"#b0b0b0","zindex":1}},"x2":{"field":"x1"},"y":{"field":"y0","type":"quantitative","scale":{"domain":[0.7485,0.7998],"range":[113,46],"nice":false,"zero":false},"axis":{"orient":"left","offset":-104,"values":[0.76,0.78],"format":".2f","labelFontSize":7,"tickSize":3,"labelPadding":2,"domain":false,"title":null,"gridDash":[3,2],"gridColor":"#b0b0b0","zindex":1}},"y2":{"field":"y1"},"color":{"value":"white"},"strokeDash":{"value":[1,0]}}},
     {"data":{"name":"boxes"},"transform":[{"filter":"datum.model==='R152'"},{"lookup":"model","from":{"data":{"name":"orig"},"key":"model","fields":["acc","method"]}}],"mark":{"type":"rule","strokeWidth":1.2},"encoding":{"x":{"field":"x0","type":"quantitative"},"x2":{"field":"x1"}}},
     {"data":{"name":"curves"},"transform":[{"filter":"datum.model==='R152'"}],"mark":{"type":"line","strokeWidth":1.5,"clip":{"path":"M104,46H193V113H104Z"}},"encoding":{"x":{"field":"bpw","type":"quantitative"}}},
     {"data":{"name":"curves"},"transform":[{"filter":"datum.model==='R152' && datum.method!=='CERWU-λ=0'"}],"mark":{"type":"point","filled":true,"size":14,"opacity":1,"clip":{"path":"M104,46H193V113H104Z"}},"encoding":{"x":{"field":"bpw","type":"quantitative"},"shape":{"field":"method","type":"nominal"}}},
     {"data":{"name":"curves"},"transform":[{"filter":"datum.model==='R152' && datum.method==='CERWU-λ=0'"}],"mark":{"type":"point","shape":"M-1,-1L1,1M-1,1L1,-1","filled":false,"size":100,"strokeWidth":1,"opacity":1,"clip":{"path":"M104,46H193V113H104Z"}},"encoding":{"x":{"field":"bpw","type":"quantitative"}}}
    ]}
  ]},
  {"width":198,"height":117,"title":{"text":"VGG16 (138M)"},"resolve":{"scale":{"x":"independent","y":"independent"}},"layer":[
   {"encoding":{"y":{"field":"acc","type":"quantitative","scale":{"domain":[0,0.935],"nice":false,"zero":false},"axis":{"values":[0,0.2,0.4,0.6,0.8],"labels":false,"ticks":false,"domain":false,"title":null}},"color":{"field":"method","type":"nominal"},"strokeDash":{"field":"method","type":"nominal"}},
    "layer":[
     {"data":{"name":"orig"},"transform":[{"filter":"datum.model==='VGG16'"}],"mark":{"type":"rule","strokeWidth":1.2},"encoding":{}},
     {"data":{"name":"curves"},"transform":[{"filter":"datum.model==='VGG16'"}],"mark":{"type":"line","strokeWidth":1.5,"clip":true},"encoding":{"x":{"field":"bpw","type":"quantitative","scale":{"domain":[-0.21,4.36],"nice":false,"zero":false},"axis":{"values":[0,1,2,3,4],"format":"d","domain":false,"title":"Bits Per Weight","tickSize":3.5,"labelPadding":2,"titlePadding":3}}}},
     {"data":{"name":"curves"},"transform":[{"filter":"datum.model==='VGG16' && datum.method!=='CERWU-λ=0'"}],"mark":{"type":"point","filled":true,"size":14,"opacity":1,"clip":true},"encoding":{"x":{"field":"bpw","type":"quantitative"},"shape":{"field":"method","type":"nominal"}}},
     {"data":{"name":"curves"},"transform":[{"filter":"datum.model==='VGG16' && datum.method==='CERWU-λ=0'"}],"mark":{"type":"point","shape":"M-1,-1L1,1M-1,1L1,-1","filled":false,"size":100,"strokeWidth":1,"opacity":1,"clip":true},"encoding":{"x":{"field":"bpw","type":"quantitative"}}},
     {"data":{"name":"boxes"},"transform":[{"filter":"datum.model==='VGG16'"}],"mark":{"type":"rect","filled":false,"strokeWidth":1.5},"encoding":{"x":{"field":"x0","type":"quantitative"},"x2":{"field":"x1"},"y":{"field":"y0","type":"quantitative","scale":{"domain":[0,0.935],"nice":false,"zero":false},"axis":{"values":[0,0.2,0.4,0.6,0.8],"labels":false,"ticks":false,"domain":false,"title":null}},"y2":{"field":"y1"},"color":{"value":"#dc3d6a"},"strokeDash":{"value":[1,0]}}}
    ]},
   {"encoding":{"y":{"field":"acc","type":"quantitative","scale":{"domain":[0.68,0.725],"range":[113,46],"nice":false,"zero":false},"axis":{"orient":"left","offset":-104,"values":[0.7,0.72],"format":".2f","labelFontSize":7,"tickSize":3,"labelPadding":2,"domain":false,"title":null,"gridDash":[3,2],"gridColor":"#b0b0b0","zindex":1}},"color":{"field":"method","type":"nominal"},"strokeDash":{"field":"method","type":"nominal"}},
    "layer":[
     {"data":{"name":"boxes"},"transform":[{"filter":"datum.model==='VGG16'"}],"mark":{"type":"rect","fill":"white","stroke":"#222222","strokeWidth":1},"encoding":{"x":{"field":"x0","type":"quantitative","scale":{"domain":[0.34,1.74],"range":[104,193],"nice":false,"zero":false},"axis":{"orient":"top","offset":-46,"values":[0.5,1,1.5],"format":".1f","labelFontSize":7,"tickSize":3,"labelPadding":2,"domain":false,"title":null,"gridDash":[3,2],"gridColor":"#b0b0b0","zindex":1}},"x2":{"field":"x1"},"y":{"field":"y0","type":"quantitative","scale":{"domain":[0.68,0.725],"range":[113,46],"nice":false,"zero":false},"axis":{"orient":"left","offset":-104,"values":[0.7,0.72],"format":".2f","labelFontSize":7,"tickSize":3,"labelPadding":2,"domain":false,"title":null,"gridDash":[3,2],"gridColor":"#b0b0b0","zindex":1}},"y2":{"field":"y1"},"color":{"value":"white"},"strokeDash":{"value":[1,0]}}},
     {"data":{"name":"boxes"},"transform":[{"filter":"datum.model==='VGG16'"},{"lookup":"model","from":{"data":{"name":"orig"},"key":"model","fields":["acc","method"]}}],"mark":{"type":"rule","strokeWidth":1.2},"encoding":{"x":{"field":"x0","type":"quantitative"},"x2":{"field":"x1"}}},
     {"data":{"name":"curves"},"transform":[{"filter":"datum.model==='VGG16'"}],"mark":{"type":"line","strokeWidth":1.5,"clip":{"path":"M104,46H193V113H104Z"}},"encoding":{"x":{"field":"bpw","type":"quantitative"}}},
     {"data":{"name":"curves"},"transform":[{"filter":"datum.model==='VGG16' && datum.method!=='CERWU-λ=0'"}],"mark":{"type":"point","filled":true,"size":14,"opacity":1,"clip":{"path":"M104,46H193V113H104Z"}},"encoding":{"x":{"field":"bpw","type":"quantitative"},"shape":{"field":"method","type":"nominal"}}},
     {"data":{"name":"curves"},"transform":[{"filter":"datum.model==='VGG16' && datum.method==='CERWU-λ=0'"}],"mark":{"type":"point","shape":"M-1,-1L1,1M-1,1L1,-1","filled":false,"size":100,"strokeWidth":1,"opacity":1,"clip":{"path":"M104,46H193V113H104Z"}},"encoding":{"x":{"field":"bpw","type":"quantitative"}}}
    ]}
  ]},
  {"width":198,"height":117,"title":{"text":"MobileNetv3 (Small) (3M)"},
   "encoding":{"y":{"field":"acc","type":"quantitative","scale":{"domain":[0,0.935],"nice":false,"zero":false},"axis":{"values":[0,0.2,0.4,0.6,0.8],"format":".1f","domain":false,"title":"Top-1 Accuracy","tickSize":3.5,"labelPadding":3,"titlePadding":3}},"color":{"field":"method","type":"nominal"},"strokeDash":{"field":"method","type":"nominal"}},
   "layer":[
     {"data":{"name":"orig"},"transform":[{"filter":"datum.model==='MNS'"}],"mark":{"type":"rule","strokeWidth":1.2},"encoding":{}},
     {"data":{"name":"curves"},"transform":[{"filter":"datum.model==='MNS'"}],"mark":{"type":"line","strokeWidth":1.5,"clip":true},"encoding":{"x":{"field":"bpw","type":"quantitative","scale":{"domain":[-0.21,4.36],"nice":false,"zero":false},"axis":{"values":[0,1,2,3,4],"format":"d","domain":false,"title":"Bits Per Weight","tickSize":3.5,"labelPadding":2,"titlePadding":3}}}},
     {"data":{"name":"curves"},"transform":[{"filter":"datum.model==='MNS' && datum.method!=='CERWU-λ=0'"}],"mark":{"type":"point","filled":true,"size":14,"opacity":1,"clip":true},"encoding":{"x":{"field":"bpw","type":"quantitative"},"shape":{"field":"method","type":"nominal"}}},
     {"data":{"name":"curves"},"transform":[{"filter":"datum.model==='MNS' && datum.method==='CERWU-λ=0'"}],"mark":{"type":"point","shape":"M-1,-1L1,1M-1,1L1,-1","filled":false,"size":100,"strokeWidth":1,"opacity":1,"clip":true},"encoding":{"x":{"field":"bpw","type":"quantitative"}}}
   ]},
  {"width":198,"height":117,"title":{"text":"MobileNetv3 (Large) (5M)"},
   "encoding":{"y":{"field":"acc","type":"quantitative","scale":{"domain":[0,0.935],"nice":false,"zero":false},"axis":{"values":[0,0.2,0.4,0.6,0.8],"labels":false,"ticks":false,"domain":false,"title":null}},"color":{"field":"method","type":"nominal"},"strokeDash":{"field":"method","type":"nominal"}},
   "layer":[
     {"data":{"name":"orig"},"transform":[{"filter":"datum.model==='MNL'"}],"mark":{"type":"rule","strokeWidth":1.2},"encoding":{}},
     {"data":{"name":"curves"},"transform":[{"filter":"datum.model==='MNL'"}],"mark":{"type":"line","strokeWidth":1.5,"clip":true},"encoding":{"x":{"field":"bpw","type":"quantitative","scale":{"domain":[-0.21,4.36],"nice":false,"zero":false},"axis":{"values":[0,1,2,3,4],"format":"d","domain":false,"title":"Bits Per Weight","tickSize":3.5,"labelPadding":2,"titlePadding":3}}}},
     {"data":{"name":"curves"},"transform":[{"filter":"datum.model==='MNL' && datum.method!=='CERWU-λ=0'"}],"mark":{"type":"point","filled":true,"size":14,"opacity":1,"clip":true},"encoding":{"x":{"field":"bpw","type":"quantitative"},"shape":{"field":"method","type":"nominal"}}},
     {"data":{"name":"curves"},"transform":[{"filter":"datum.model==='MNL' && datum.method==='CERWU-λ=0'"}],"mark":{"type":"point","shape":"M-1,-1L1,1M-1,1L1,-1","filled":false,"size":100,"strokeWidth":1,"opacity":1,"clip":true},"encoding":{"x":{"field":"bpw","type":"quantitative"}}}
   ]}
]
}
